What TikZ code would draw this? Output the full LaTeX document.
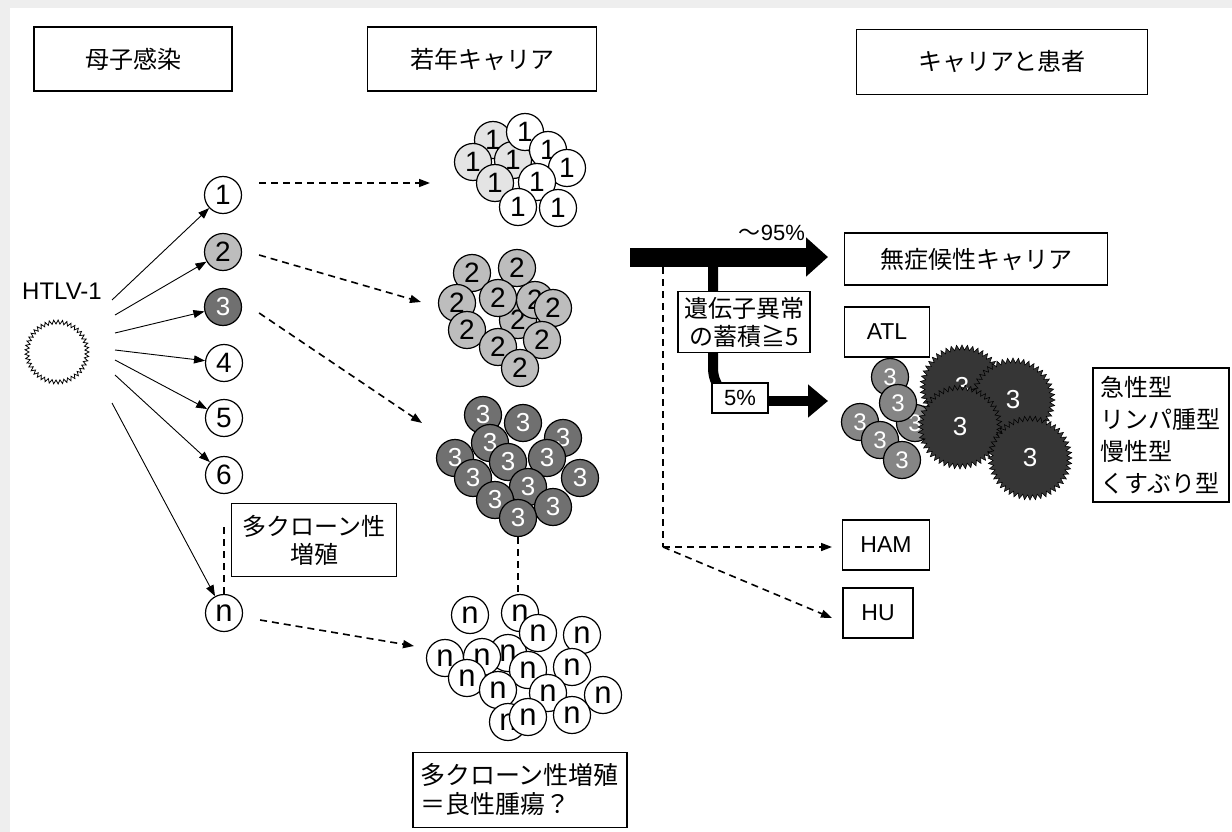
\documentclass[tikz,border=0pt]{standalone}
\usepackage{fontspec}
\setmainfont{Liberation Sans}
\newfontfamily\jp{Noto Sans CJK JP}
\usetikzlibrary{arrows.meta,calc}

\definecolor{pagegray}{HTML}{EEEEEE}
\definecolor{lightcell}{HTML}{E4E4E4}
\definecolor{midcell}{HTML}{BDBDBD}
\definecolor{darkcell}{HTML}{707070}
\definecolor{atlcol}{HTML}{363636}

% spiky tumour cell: name, x, y
\newcommand\atlcell[3]{%
  \begin{scope}[shift={(#2,#3)}]
    \filldraw[fill=atlcol, draw=black, line width=0.6pt]
      (0:42) \foreach \a in {0,7.5,...,352.5}{ -- (\a:42) -- (\a+3.75:37)} -- cycle;
  \end{scope}
  \node[text=white, font=\fontsize{26}{26}\selectfont] (#1) at (#2,#3) {3};
}

\begin{document}
\begin{tikzpicture}[x=1pt,y=-1pt,
  box/.style={draw, line width=1.3pt, fill=white, inner sep=0pt,
    font=\jp\fontsize{24}{28}\selectfont, align=center},
  latin/.style={font=\fontsize{24}{24}\selectfont},
  cell/.style={circle, draw, line width=1.2pt, minimum size=37pt, inner sep=0pt,
    fill=white, font=\fontsize{28}{28}\selectfont},
  cellA/.style={cell},
  cellB/.style={cell, fill=lightcell},
  cellC/.style={cell, fill=midcell},
  cellD/.style={cell, fill=darkcell, text=white, font=\fontsize{26}{26}\selectfont},
  celln/.style={cell, font=\fontsize{31}{31}\selectfont},
  tip/.style={-{Triangle[length=11pt,width=8pt]}},
  thin/.style={line width=0.9pt, tip},
  dasharrow/.style={line width=1.6pt, dash pattern=on 7pt off 5pt,
    -{Triangle[length=11pt,width=8pt]}},
  dashline/.style={line width=1.6pt, dash pattern=on 7pt off 5pt},
]
\useasboundingbox (0,0) rectangle (1232,832);
\fill[pagegray] (0,0) rectangle (1232,832);
\fill[white] (10,8) rectangle (1232,832);

% column headers
\node[box, minimum width=198pt, minimum height=64pt] (h1) at (133,59) {母子感染};
\node[box, minimum width=229pt, minimum height=64pt] (h2) at (482,59) {若年キャリア};
\node[box, minimum width=291pt, minimum height=65pt] (h3) at (1002,62) {キャリアと患者};

% virus
\node[latin] (htlv) at (62,291) {HTLV-1};
\begin{scope}[shift={(57,352)}]
  \filldraw[fill=white, draw=black, line width=0.8pt]
    (0:32) \foreach \a in {0,8,...,352}{ -- (\a:32) -- (\a+4:28)} -- cycle;
\end{scope}
\coordinate (virus) at (57,352);

% infected clones
\node[cellA] (c1) at (223,195) {1};
\node[cellC] (c2) at (223,252) {2};
\node[cellD] (c3) at (223,307) {3};
\node[cellA] (c4) at (224,363) {4};
\node[cellA] (c5) at (224,418) {5};
\node[cellA] (c6) at (224,475) {6};
\node[celln] (cn) at (224,613) {n};

\coordinate (s1) at (112,300);
\coordinate (s2) at (115,315);
\coordinate (s3) at (115,333);
\coordinate (s4) at (115,350);
\coordinate (s5) at (115,360);
\coordinate (s6) at (115,375);
\coordinate (s7) at (112,403);
\draw[thin] (s1) -- (c1);
\draw[thin] (s2) -- (c2);
\draw[thin] (s3) -- (c3);
\draw[thin] (s4) -- (c4);
\draw[thin] (s5) -- (c5);
\draw[thin] (s6) -- (c6);
\draw[thin] (s7) -- (cn);

% polyclonal label
\node[box, minimum width=165pt, minimum height=73pt] (poly) at (314,540) {多クローン性\\増殖};
\coordinate (brk) at (224,523);
\draw[dashline] (cn.north) -- (brk);

% clone 1 expansion
\foreach \x/\y/\s [count=\k] in {493/140/cellB, 473/162/cellB, 513/160/cellB, 495/183/cellB,
    525/132/cellA, 548/150/cellA, 567/168/cellA, 537/182/cellA, 518/207/cellA, 558/208/cellA}
  \node[\s] (p\k) at (\x,\y) {1};

% clone 2 expansion
\foreach \x/\y [count=\k] in {518/320, 535/300, 553/308, 472/273, 517/268, 457/303,
    498/298, 467/330, 498/347, 542/340, 520/368}
  \node[cellC] (q\k) at (\x,\y) {2};

% clone 3 expansion
\foreach \x/\y [count=\k] in {483/415, 563/438, 523/423, 455/458, 490/443, 508/462,
    547/458, 473/478, 528/487, 580/478, 495/500, 553/507, 518/518}
  \node[cellD] (r\k) at (\x,\y) {3};

% clone n expansion
\foreach \x/\y [count=\k] in {520/613, 508/653, 470/615, 538/633, 582/635, 445/658,
    482/657, 467/678, 528/670, 572/667, 498/690, 548/693, 603/695, 508/722, 528/717, 572/715}
  \node[celln] (m\k) at (\x,\y) {n};

\draw[dashline] (r13.south) -- (r13.south |- m1.north);

\node[box, align=left, text width=200pt, inner xsep=7pt, minimum height=75pt,
  font=\jp\fontsize{25}{29}\selectfont] (benign)
  at (520,790) {多クローン性増殖\\＝良性腫瘍？};

% clone to expansion connectors
\coordinate (e1) at (430,183);
\coordinate (e2) at (421,302);
\coordinate (e3) at (422,423);
\coordinate (en) at (414,646);
\draw[dasharrow] ($(c1.east |- e1)+(17,0)$) -- (e1);
\draw[dasharrow] ($(c2.east)+(17,3)$) -- (e2);
\draw[dasharrow] ($(c3.east)+(17,6)$) -- (e3);
\draw[dasharrow] ($(cn.east)+(17,7)$) -- (en);

% outcomes
\coordinate (barL) at (630,257);
\coordinate (barR) at (828,257);
\draw[line width=19pt, -{Triangle[length=22pt,width=38pt]}] (barL) -- (barR);
\node[font=\fontsize{22}{22}\selectfont] (p95) at (772,233) {{\jp ～}95\%};

\node[box, minimum width=263pt, minimum height=52pt] (asym) at (976,259) {無症候性キャリア};
\node[box, minimum width=85pt, minimum height=50pt, font=\fontsize{23}{23}\selectfont] (atl) at (887,332) {ATL};

\coordinate (br0) at (713,265);
\coordinate (br1) at (713,368);
\coordinate (br2) at (740,399);
\draw[line width=10pt] (br0) -- (br1) to[out=-90,in=180] (br2);

\node[box, minimum width=132pt, minimum height=61pt] (gene) at (744,322) {遺伝子異常\\の蓄積≧5};
\node[box, minimum width=56pt, minimum height=30pt, font=\fontsize{22}{22}\selectfont] (p5) at (740,398) {5\%};
\coordinate (t5) at (828,401);
\draw[line width=10pt, -{Triangle[length=20pt,width=32pt]}] (p5.east |- t5) -- (t5);

% ATL cells
\foreach \x/\y [count=\k] in {915/423, 890/377, 898/403, 860/422, 880/440, 902/460}
  \node[cellD, fill=darkcell!85!white, font=\fontsize{24}{24}\selectfont] (a\k) at (\x,\y) {3};
\atlcell{t1}{962}{387}
\atlcell{t2}{1013}{400}
\atlcell{t3}{960}{427}
\atlcell{t4}{1030}{458}

\node[box, align=left, text width=122pt, inner xsep=7pt, minimum height=134pt,
  font=\jp\fontsize{24}{32}\selectfont] (types) at (1161,435) {急性型\\リンパ腫型\\慢性型\\くすぶり型};

% HAM / HU
\node[box, minimum width=87pt, minimum height=50pt, font=\fontsize{23}{23}\selectfont] (ham) at (886,545) {HAM};
\node[box, minimum width=70pt, minimum height=50pt, font=\fontsize{23}{23}\selectfont] (hu) at (878,613) {HU};
\coordinate (d0) at (663,267);
\coordinate (dk) at (663,547);
\coordinate (dham) at (832,547);
\coordinate (dhu) at (832,618);
\draw[dashline] (d0) -- (dk);
\draw[dasharrow] (dk) -- (dham);
\draw[dasharrow] (dk) -- (dhu);
\end{tikzpicture}
\end{document}
